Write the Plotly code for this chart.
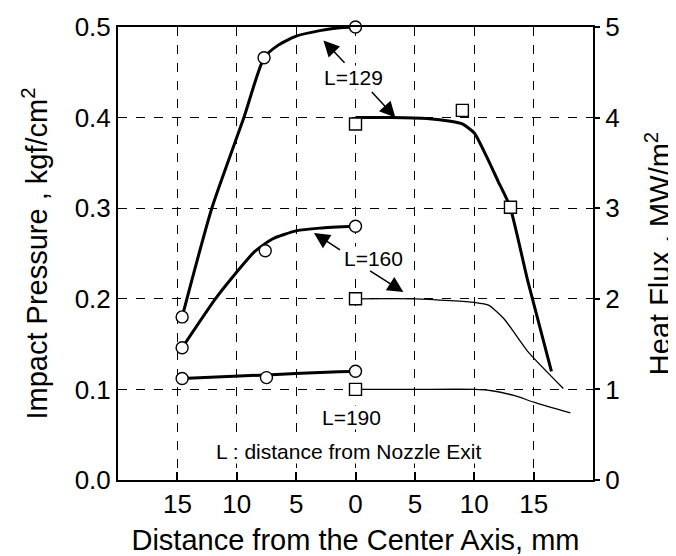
import plotly.graph_objects as go

# =========================
# DATA
# =========================
# impact pressure, measured points (left half, kgf/cm2)
x_p = [-14.6, -7.7, 0.0]
p129 = [0.180, 0.466, 0.500]
x_p160 = [-14.6, -7.6, 0.0]
p160 = [0.146, 0.253, 0.280]
x_p190 = [-14.6, -7.5, 0.0]
p190 = [0.112, 0.113, 0.120]

# impact pressure, drawn curves
cx_p129 = [-14.6, -12.1, -9.4, -7.7, -6.5, -5.0, -3.0, -1.5, 0.0]
cy_p129 = [0.180, 0.300, 0.400, 0.466, 0.480, 0.490, 0.496, 0.499, 0.500]
cx_p160 = [-14.6, -11.8, -10.1, -8.5, -7.0, -5.0, -3.0, 0.0]
cy_p160 = [0.146, 0.200, 0.228, 0.252, 0.266, 0.275, 0.278, 0.280]
cx_p190 = [-14.6, -7.5, -1.4, 0.0]
cy_p190 = [0.112, 0.116, 0.1195, 0.120]

# heat flux, measured points (right half, MW/m2)
x_q129 = [0.0, 9.0, 13.05]
q129 = [3.93, 4.08, 3.01]
x_q160 = [0.0]
q160 = [2.0]
x_q190 = [0.0]
q190 = [1.0]

# heat flux, drawn curves
cx_q129 = [0, 3, 6, 8, 9, 10, 11, 12, 13, 14.5, 16.5]
cy_q129 = [4.0, 4.0, 3.99, 3.96, 3.93, 3.83, 3.58, 3.30, 3.02, 2.20, 1.20]
cx_q160 = [0, 5, 8, 10, 11.2, 12.5, 14.5, 17.5]
cy_q160 = [2.0, 2.0, 1.98, 1.96, 1.93, 1.78, 1.42, 1.01]
cx_q190 = [0, 5, 10, 11.5, 13.4, 15, 18.1]
cy_q190 = [1.0, 1.0, 1.0, 0.985, 0.93, 0.86, 0.74]

x_ticks = [-15, -10, -5, 0, 5, 10, 15]
x_ticktext = ["15", "10", "5", "0", "5", "10", "15"]

FONT = "Liberation Sans, Arial, Helvetica, sans-serif"

fig = go.Figure()

# curves
def curve(x, y, w, yaxis="y"):
    fig.add_trace(go.Scatter(
        x=x, y=y, mode="lines", yaxis=yaxis,
        line=dict(color="black", width=w, shape="spline", smoothing=0.6),
        showlegend=False, hoverinfo="skip"))

curve(cx_p129, cy_p129, 3)
curve(cx_p160, cy_p160, 3)
curve(cx_p190, cy_p190, 3)
curve(cx_q129, cy_q129, 3, "y2")
curve(cx_q160, cy_q160, 1.3, "y2")
curve(cx_q190, cy_q190, 1.3, "y2")

# markers on top
def pts(x, y, sym, yaxis="y"):
    fig.add_trace(go.Scatter(
        x=x, y=y, mode="markers", yaxis=yaxis,
        marker=dict(symbol=sym, size=12, color="white",
                    line=dict(color="black", width=1.4)),
        showlegend=False, cliponaxis=False))

pts(x_p, p129, "circle")
pts(x_p160, p160, "circle")
pts(x_p190, p190, "circle")
pts(x_q129, q129, "square", "y2")
pts(x_q160, q160, "square", "y2")
pts(x_q190, q190, "square", "y2")

# =========================
# ANNOTATIONS
# =========================
def label(text, x, y):
    fig.add_annotation(x=x, y=y, xref="x", yref="y", text=text,
                       showarrow=False, bgcolor="white", borderpad=0,
                       font=dict(family=FONT, size=21, color="black"))

def arrow(x, y, ax, ay, yref="y"):
    fig.add_annotation(x=x, y=y, ax=ax, ay=ay, xref="x", yref=yref,
                       axref="x", ayref=yref, text="", showarrow=True,
                       arrowhead=2, arrowsize=2.1, arrowwidth=1.5, arrowcolor="black")

label("L=129", -0.2, 0.444)
label("L=160", 1.5, 0.245)
label("L=190", -0.3, 0.0695)
label("L : distance from Nozzle Exit", -0.6, 0.031)

arrow(-2.7, 0.485, -0.8, 0.459)
arrow(3.36, 4.0, 1.26, 4.30, "y2")
arrow(-3.5, 0.2726, -1.18, 0.253)
arrow(4.03, 2.075, 1.1, 2.32, "y2")

# =========================
# LAYOUT
# =========================
# page body adds 8px margin, so the figure is a bit smaller than the window
fig.update_layout(
    width=668, height=548,
    margin=dict(l=110, r=83, t=19, b=76),
    paper_bgcolor="white", plot_bgcolor="white",
    font=dict(family=FONT, color="black"),
    showlegend=False,
    xaxis=dict(
        range=[-20, 20], tickvals=x_ticks, ticktext=x_ticktext,
        ticks="inside", ticklen=8, tickwidth=1.5, tickcolor="black",
        tickfont=dict(size=26), automargin=False,
        showline=True, linewidth=2, linecolor="black", mirror=True,
        showgrid=True, gridcolor="black", gridwidth=1, griddash="dash",
        zeroline=False,
        title=dict(text="Distance from the Center Axis, mm",
                   font=dict(size=29), standoff=21),
    ),
    yaxis=dict(
        range=[0, 0.5], tickvals=[0, 0.1, 0.2, 0.3, 0.4, 0.5],
        ticktext=["0.0", "0.1", "0.2", "0.3", "0.4", "0.5"],
        ticks="", tickfont=dict(size=26), automargin=False,
        showline=True, linewidth=2, linecolor="black",
        showgrid=True, gridcolor="black", gridwidth=1, griddash="dash",
        zeroline=False,
        title=dict(text="Impact Pressure , kgf/cm<sup>2</sup>",
                   font=dict(size=29), standoff=18),
    ),
    yaxis2=dict(
        range=[0, 5], tickvals=[0, 1, 2, 3, 4, 5],
        overlaying="y", side="right",
        ticks="outside", ticklen=5, tickwidth=1.5, tickcolor="black",
        tickfont=dict(size=26), automargin=False,
        showline=True, linewidth=2, linecolor="black",
        showgrid=False, zeroline=False,
        title=dict(text="Heat Flux , MW/m<sup>2</sup>",
                   font=dict(size=29), standoff=31),
    ),
)

fig.write_html("out.html")
